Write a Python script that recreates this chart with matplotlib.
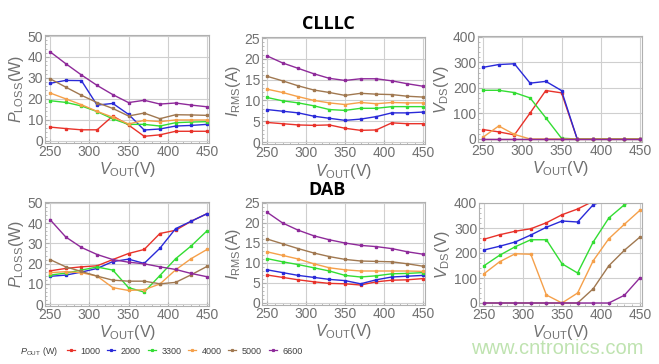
import matplotlib
matplotlib.use("Agg")
import matplotlib.pyplot as plt
from matplotlib.lines import Line2D
from matplotlib.ticker import MultipleLocator

plt.rcParams["font.family"] = ["Liberation Sans", "DejaVu Sans"]
plt.rcParams["mathtext.fontset"] = "custom"
plt.rcParams["mathtext.rm"] = "Liberation Sans"
plt.rcParams["mathtext.it"] = "Liberation Sans:italic"
plt.rcParams["mathtext.bf"] = "Liberation Sans:bold"

W, H = 659, 364
DPI = 100

vout = [250, 270, 290, 310, 330, 350, 370, 390, 410, 430, 450]
pout_labels = ["1000", "2000", "3300", "4000", "5000", "6600"]
colors = ["#e8322a", "#2a2ad8", "#33dd33", "#f5a04a", "#a07850", "#8e2a9a"]

# CLLLC
clllc_ploss = [
    [6.5, 5.8, 5.2, 5.2, 11.8, 7.5, 2.1, 2.8, 4.5, 4.5, 4.5],
    [27.4, 28.8, 28.7, 17.0, 17.8, 12.6, 5.1, 5.6, 7.0, 7.3, 7.8],
    [19.1, 18.3, 16.6, 13.9, 10.4, 7.8, 7.8, 7.0, 8.6, 8.9, 9.1],
    [22.8, 20.0, 17.2, 14.0, 11.2, 8.0, 9.7, 9.1, 9.9, 9.9, 9.9],
    [29.6, 25.6, 21.7, 18.2, 15.4, 11.8, 13.2, 10.5, 12.4, 12.3, 12.1],
    [42.5, 36.8, 31.4, 26.4, 22.0, 18.2, 19.3, 17.5, 18.0, 17.0, 16.2],
]
clllc_irms = [
    [4.7, 4.4, 4.1, 4.0, 4.1, 3.3, 2.8, 2.9, 4.6, 4.4, 4.4],
    [7.8, 7.4, 7.0, 6.2, 5.7, 5.2, 5.5, 6.1, 7.0, 7.0, 7.2],
    [10.7, 9.9, 9.4, 8.7, 7.8, 7.6, 8.1, 8.1, 8.5, 8.5, 8.5],
    [12.7, 11.9, 10.9, 10.0, 9.4, 9.0, 9.5, 9.2, 9.5, 9.4, 9.4],
    [15.8, 14.7, 13.5, 12.5, 11.9, 11.2, 11.7, 11.5, 11.4, 11.0, 10.8],
    [20.7, 19.0, 17.7, 16.4, 15.3, 14.8, 15.2, 15.2, 14.7, 14.0, 13.4],
]
clllc_vds = [
    [37, 28, 16, 102, 190, 181, 0, 0, 0, 0, 0],
    [281, 292, 295, 219, 226, 190, 0, 0, 0, 0, 0],
    [191, 191, 182, 161, 83, 3, 0, 0, 0, 0, 0],
    [7, 51, 18, 0, 0, 0, 0, 0, 0, 0, 0],
    [0, 0, 0, 0, 0, 0, 0, 0, 0, 0, 0],
    [0, 0, 0, 0, 0, 0, 0, 0, 0, 0, 0],
]

# DAB
dab_ploss = [
    [16.4, 17.6, 18.4, 18.9, 22.0, 25.0, 27.0, 34.9, 36.5, 41.0, 44.7],
    [13.7, 14.3, 15.8, 17.6, 21.0, 22.2, 20.1, 27.6, 37.3, 41.0, 44.7],
    [14.3, 15.3, 16.8, 18.3, 16.8, 8.1, 5.9, 14.1, 22.4, 28.8, 36.2],
    [15.5, 16.0, 15.5, 13.8, 8.1, 6.7, 7.1, 9.9, 16.9, 22.5, 27.0],
    [22.0, 18.4, 16.1, 13.8, 11.8, 11.3, 11.3, 10.0, 10.7, 14.5, 18.6],
    [41.8, 33.2, 28.0, 24.5, 22.0, 20.7, 19.9, 18.4, 17.1, 15.1, 13.5],
]
dab_irms = [
    [7.0, 6.4, 5.8, 5.3, 4.9, 4.8, 4.5, 5.3, 5.7, 5.8, 6.1],
    [8.3, 7.6, 6.9, 6.4, 5.9, 5.6, 4.8, 5.8, 6.5, 6.7, 6.9],
    [11.1, 10.3, 9.6, 8.8, 8.0, 6.9, 6.5, 6.8, 7.3, 7.4, 7.6],
    [12.8, 11.9, 11.0, 9.8, 8.8, 8.3, 8.0, 8.0, 8.0, 8.0, 7.9],
    [16.0, 14.8, 13.6, 12.5, 11.6, 10.9, 10.5, 10.4, 10.3, 9.8, 9.2],
    [22.7, 20.0, 18.2, 16.8, 15.8, 15.0, 14.4, 14.1, 13.6, 12.8, 12.2],
]
dab_vds = [
    [255, 273, 287, 297, 321, 353, 376, 407, 440, 470, 500],
    [212, 227, 244, 272, 303, 328, 324, 393, 415, 445, 475],
    [149, 191, 225, 253, 253, 157, 120, 244, 340, 393, 424],
    [117, 165, 197, 195, 32, 0, 40, 169, 257, 315, 371],
    [0, 0, 0, 0, 0, 0, 0, 57, 149, 211, 264],
    [0, 0, 0, 0, 0, 0, 0, 0, 0, 31, 101],
]

fig = plt.figure(figsize=(W / DPI, H / DPI), dpi=DPI)
fig.patch.set_facecolor("white")

XLIM = (244, 453)


def make_ax(x250, x450, ytop_px, y0_px, ytop_val, ylim):
    sx = (x450 - x250) / 200.0
    sy = (y0_px - ytop_px) / float(ytop_val)
    left = x250 + (XLIM[0] - 250) * sx
    right = x250 + (XLIM[1] - 250) * sx
    top = y0_px - ylim[1] * sy
    bottom = y0_px - ylim[0] * sy
    ax = fig.add_axes([left / W, 1 - bottom / H, (right - left) / W, (bottom - top) / H])
    return ax


def style(ax, ylim, ymajor, yminor, ylabel):
    ax.set_xlim(*XLIM)
    ax.set_ylim(*ylim)
    ax.xaxis.set_major_locator(MultipleLocator(50))
    ax.xaxis.set_minor_locator(MultipleLocator(10))
    ax.yaxis.set_major_locator(MultipleLocator(ymajor))
    ax.yaxis.set_minor_locator(MultipleLocator(yminor))
    ax.grid(True, which="major", color="#cfcfcf", lw=0.8)
    ax.set_axisbelow(True)
    for s in ax.spines.values():
        s.set_color("#b0b0b0")
        s.set_linewidth(0.8)
    ax.tick_params(which="both", direction="in", colors="#b0b0b0",
                   labelcolor="#707070", labelsize=10, pad=1.5)
    ax.tick_params(which="major", length=3)
    ax.tick_params(which="minor", length=1.5)
    ax.set_xlabel(r"$V_{\mathrm{OUT}}$(V)", color="#707070", fontsize=11.5, labelpad=1)
    ax.set_ylabel(ylabel, color="#707070", fontsize=11.5, labelpad=1)


def draw(ax, data):
    for vals, c in zip(data, colors):
        ax.plot(vout, vals, color=c, lw=1.0, marker="s", ms=1.9, clip_on=True)


plabel = r"$P_{\mathrm{LOSS}}$(W)"
ilabel = r"$I_{\mathrm{RMS}}$(A)"
vlabel = r"$V_{\mathrm{DS}}$(V)"

ax1 = make_ax(50, 207, 36, 140.7, 50, (-1, 50.4))
draw(ax1, clllc_ploss)
style(ax1, (-1, 50.4), 10, 2, plabel)

ax2 = make_ax(267, 423, 38, 142, 25, (-0.5, 25.2))
draw(ax2, clllc_irms)
style(ax2, (-0.5, 25.2), 5, 1, ilabel)

ax3 = make_ax(483, 640, 37, 139, 400, (-10, 402))
draw(ax3, clllc_vds)
style(ax3, (-10, 402), 100, 20, vlabel)

ax4 = make_ax(50, 207, 203, 304, 50, (-1, 50.4))
draw(ax4, dab_ploss)
style(ax4, (-1, 50.4), 10, 2, plabel)

ax5 = make_ax(267, 423, 203, 303, 25, (-0.5, 25.2))
draw(ax5, dab_irms)
style(ax5, (-0.5, 25.2), 5, 1, ilabel)

ax6 = make_ax(484, 640, 203, 303, 400, (-10, 400))
draw(ax6, dab_vds)
style(ax6, (-10, 400), 100, 20, vlabel)

fig.text(328 / W, 1 - 24 / H, "CLLLC", ha="center", va="center",
         fontsize=13, fontweight="bold", color="black", family="Open Sans")
fig.text(327 / W, 1 - 190 / H, "DAB", ha="center", va="center",
         fontsize=13, fontweight="bold", color="black", family="Open Sans")

# legend
fig.text(20 / W, 1 - 351 / H, r"$P_{\mathrm{OUT}}$ (W)", ha="left", va="center",
         fontsize=6.5, color="#404040")
handles = [Line2D([], [], color=c, lw=0.9, marker="s", ms=1.3) for c in colors]
leg = fig.legend(handles, pout_labels, loc="center left",
                 bbox_to_anchor=(67 / W, 1 - 351 / H), ncol=6, frameon=False,
                 fontsize=6.5, handlelength=0.9, handletextpad=0.6,
                 columnspacing=0.75, borderpad=0, borderaxespad=0)
for t in leg.get_texts():
    t.set_color("#404040")

fig.text(557 / W, 1 - 349 / H, "www.cntronics.com", ha="center", va="center",
         fontsize=14.5, color="#bfe3b0")

fig.savefig("out.png", dpi=DPI)
